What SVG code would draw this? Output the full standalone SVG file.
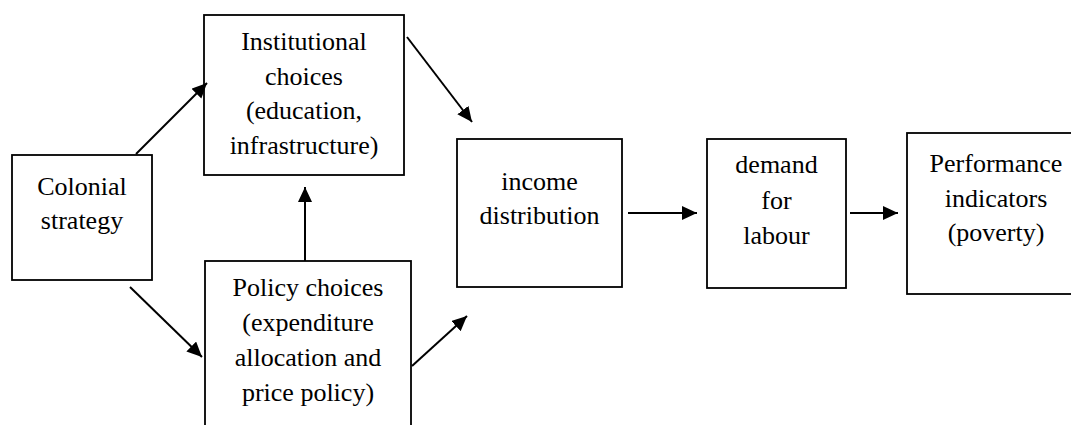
<svg xmlns="http://www.w3.org/2000/svg" width="1071" height="425" viewBox="0 0 1071 425">
<style>
.box{fill:#fff;stroke:#000;stroke-width:1.8}
text{font-family:'Liberation Serif','Times New Roman',serif;font-size:26px;text-anchor:middle;fill:#000}
.c{stroke:#000;stroke-width:2;fill:none;marker-end:url(#ah)}
</style>
<defs>
<marker id="ah" markerUnits="userSpaceOnUse" markerWidth="16" markerHeight="15" refX="15" refY="7" orient="auto">
<path d="M0,0 L15,7 L0,14 z" fill="#000"/>
</marker>
</defs>
<rect width="1071" height="425" fill="#fff"/>
<g id="colonial">
<rect class="box" x="12" y="155" width="140" height="125"/>
<text x="82" y="195">Colonial</text>
<text x="82" y="229">strategy</text>
</g>
<g id="institutional">
<rect class="box" x="204" y="15" width="200" height="160"/>
<text x="304" y="50">Institutional</text>
<text x="304" y="85">choices</text>
<text x="304" y="119">(education,</text>
<text x="304" y="154">infrastructure)</text>
</g>
<g id="policy">
<rect class="box" x="205" y="261" width="206" height="200"/>
<text x="308" y="296">Policy choices</text>
<text x="308" y="331">(expenditure</text>
<text x="308" y="366">allocation and</text>
<text x="308" y="401">price policy)</text>
</g>
<g id="income">
<rect class="box" x="457" y="139" width="165" height="148"/>
<text x="539.5" y="190">income</text>
<text x="539.5" y="224">distribution</text>
</g>
<g id="demand">
<rect class="box" x="707" y="139" width="139" height="149"/>
<text x="776.5" y="173">demand</text>
<text x="776.5" y="209">for</text>
<text x="776.5" y="244">labour</text>
</g>
<g id="performance">
<rect class="box" x="907" y="133" width="180" height="161"/>
<text x="996" y="172">Performance</text>
<text x="996" y="207">indicators</text>
<text x="996" y="241">(poverty)</text>
</g>
<g id="connectors">
<line class="c" x1="136" y1="154" x2="207" y2="83"/>
<line class="c" x1="407" y1="37" x2="472" y2="122"/>
<line class="c" x1="305" y1="261" x2="305" y2="187"/>
<line class="c" x1="130" y1="287" x2="202" y2="357"/>
<line class="c" x1="412" y1="366" x2="467" y2="316"/>
<line class="c" x1="628" y1="213" x2="697" y2="213"/>
<line class="c" x1="850" y1="213" x2="898" y2="213"/>
</g>
</svg>
